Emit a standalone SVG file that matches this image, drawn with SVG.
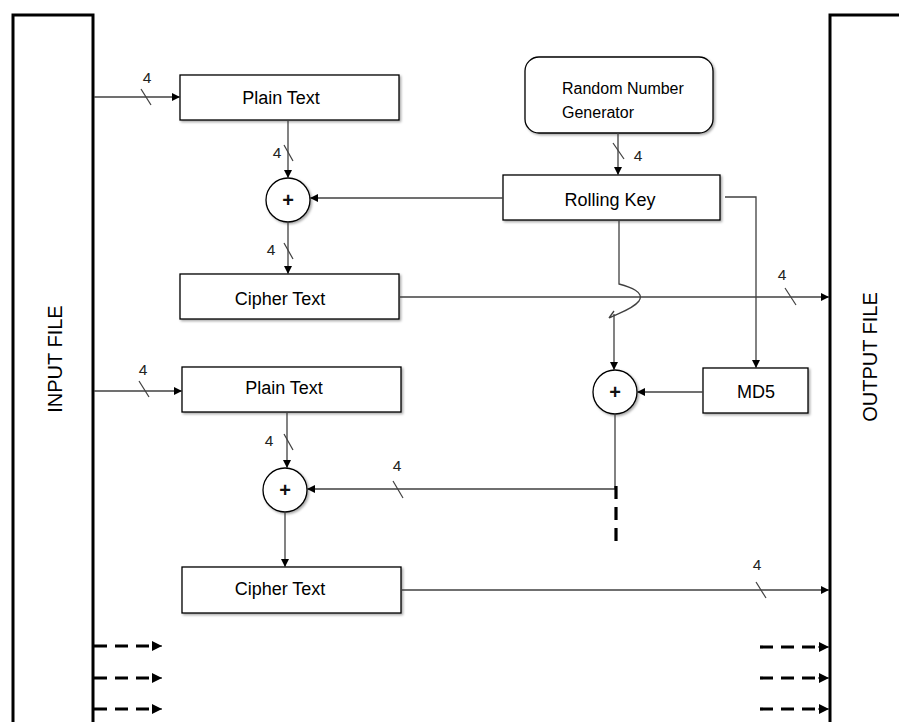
<svg xmlns="http://www.w3.org/2000/svg" width="899" height="722" viewBox="0 0 899 722">
<defs>
<marker id="ah" viewBox="0 0 10 10" refX="10" refY="5" markerWidth="8" markerHeight="8" markerUnits="userSpaceOnUse" orient="auto">
<path d="M0,0 L10,5 L0,10 z" fill="#000"/>
</marker>
<marker id="ahb" viewBox="0 0 10 10" refX="10" refY="5" markerWidth="10" markerHeight="10" markerUnits="userSpaceOnUse" orient="auto">
<path d="M0,0 L10,5 L0,10 z" fill="#000"/>
</marker>
<filter id="sh" x="-10%" y="-10%" width="130%" height="140%">
<feDropShadow dx="1.5" dy="1.5" stdDeviation="1" flood-color="#000" flood-opacity="0.35"/>
</filter>
</defs>
<style>
.box{fill:#fff;stroke:#000;stroke-width:1.3;filter:url(#sh)}
.file{fill:#fff;stroke:#000;stroke-width:3}
.ln{fill:none;stroke:#404040;stroke-width:1.3}
.sl{stroke:#404040;stroke-width:1.2}
.dash{fill:none;stroke:#000;stroke-width:3.2;stroke-dasharray:13 8}
.t{font-family:"Liberation Sans",Arial,sans-serif;font-size:18px;fill:#000;text-anchor:middle}
.s{font-family:"Liberation Sans",Arial,sans-serif;font-size:16px;fill:#000}
.n{font-family:"Liberation Sans",Arial,sans-serif;font-size:15.5px;fill:#222;text-anchor:middle}
.v{font-family:"Liberation Sans",Arial,sans-serif;font-size:20px;fill:#000;text-anchor:middle}
.p{font-family:"Liberation Sans",Arial,sans-serif;font-size:20px;font-weight:bold;fill:#111;text-anchor:middle}
</style>
<g id="input-file">
<rect class="file" x="13" y="15" width="80" height="730"/>
<text class="v" transform="translate(62,359) rotate(-90)">INPUT FILE</text>
</g>
<g id="output-file">
<rect class="file" x="830" y="15" width="90" height="730"/>
<text class="v" transform="translate(877,357) rotate(-90)">OUTPUT FILE</text>
</g>
<g id="plain-text-1">
<rect class="box" x="180" y="75" width="219" height="45"/>
<text class="t" x="281" y="104">Plain Text</text>
</g>
<g id="xor-1">
<circle class="box" cx="288" cy="200" r="22"/>
<text class="p" x="288" y="207">+</text>
</g>
<g id="cipher-text-1">
<rect class="box" x="180" y="274" width="219" height="45"/>
<text class="t" x="280" y="305">Cipher Text</text>
</g>
<g id="rng">
<rect class="box" x="525" y="57" width="188" height="76" rx="14"/>
<text class="s" x="562" y="94">Random Number</text>
<text class="s" x="562" y="118">Generator</text>
</g>
<g id="rolling-key">
<rect class="box" x="503" y="175" width="217" height="45"/>
<text class="t" x="610" y="206">Rolling Key</text>
</g>
<g id="md5">
<rect class="box" x="703" y="368" width="105" height="45"/>
<text class="t" x="756" y="398">MD5</text>
</g>
<g id="xor-3">
<circle class="box" cx="615" cy="392" r="22"/>
<text class="p" x="615" y="399">+</text>
</g>
<g id="plain-text-2">
<rect class="box" x="182" y="367" width="219" height="45"/>
<text class="t" x="284" y="394">Plain Text</text>
</g>
<g id="xor-2">
<circle class="box" cx="285" cy="490" r="22"/>
<text class="p" x="285" y="497">+</text>
</g>
<g id="cipher-text-2">
<rect class="box" x="182" y="567" width="219" height="46"/>
<text class="t" x="280" y="595">Cipher Text</text>
</g>
<g id="connectors">
<path class="ln" d="M94,97 H180" marker-end="url(#ah)"/>
<line class="sl" x1="141" y1="89" x2="151" y2="105"/>
<text class="n" x="147" y="83">4</text>
<path class="ln" d="M288,120 V178" marker-end="url(#ah)"/>
<line class="sl" x1="284" y1="145" x2="293" y2="161"/>
<text class="n" x="277" y="158">4</text>
<path class="ln" d="M503,198 H310" marker-end="url(#ah)"/>
<path class="ln" d="M288,222 V274" marker-end="url(#ah)"/>
<line class="sl" x1="284" y1="243" x2="293" y2="259"/>
<text class="n" x="271" y="255">4</text>
<path class="ln" d="M400,297 H829" marker-end="url(#ah)"/>
<line class="sl" x1="785" y1="288" x2="796" y2="305"/>
<text class="n" x="782" y="280">4</text>
<path class="ln" d="M618,133 V175" marker-end="url(#ah)"/>
<line class="sl" x1="613" y1="143" x2="624" y2="159"/>
<text class="n" x="638" y="161">4</text>
<path class="ln" d="M725,197 H756 V368" marker-end="url(#ah)"/>
<path class="ln" d="M619,220 V284 C630,287 645,292 639,301 C633,309 619,313 609,318 L614,311"/>
<path class="ln" d="M614,314 V370" marker-end="url(#ah)"/>
<path class="ln" d="M703,392 H637" marker-end="url(#ah)"/>
<path class="ln" d="M615,414 V489 H307" marker-end="url(#ah)"/>
<line class="sl" x1="393" y1="481" x2="403" y2="498"/>
<text class="n" x="397" y="471">4</text>
<path class="dash" d="M616,486 V546" stroke-dasharray="12 10"/>
<path class="ln" d="M94,391 H182" marker-end="url(#ah)"/>
<line class="sl" x1="139" y1="381" x2="149" y2="397"/>
<text class="n" x="143" y="375">4</text>
<path class="ln" d="M287,412 V468" marker-end="url(#ah)"/>
<line class="sl" x1="284" y1="434" x2="293" y2="450"/>
<text class="n" x="269" y="446">4</text>
<path class="ln" d="M285,512 V567" marker-end="url(#ah)"/>
<path class="ln" d="M401,590 H829" marker-end="url(#ah)"/>
<line class="sl" x1="756" y1="582" x2="766" y2="598"/>
<text class="n" x="757" y="570">4</text>
<path class="dash" d="M94,646 H152"/>
<path class="ln" d="M152,646 H162" marker-end="url(#ahb)"/>
<path class="dash" d="M94,678 H152"/>
<path class="ln" d="M152,678 H162" marker-end="url(#ahb)"/>
<path class="dash" d="M94,709 H152"/>
<path class="ln" d="M152,709 H162" marker-end="url(#ahb)"/>
<path class="dash" d="M760,647 H818"/>
<path class="ln" d="M818,647 H829" marker-end="url(#ahb)"/>
<path class="dash" d="M760,678 H818"/>
<path class="ln" d="M818,678 H829" marker-end="url(#ahb)"/>
<path class="dash" d="M760,709 H818"/>
<path class="ln" d="M818,709 H829" marker-end="url(#ahb)"/>
</g>
</svg>
